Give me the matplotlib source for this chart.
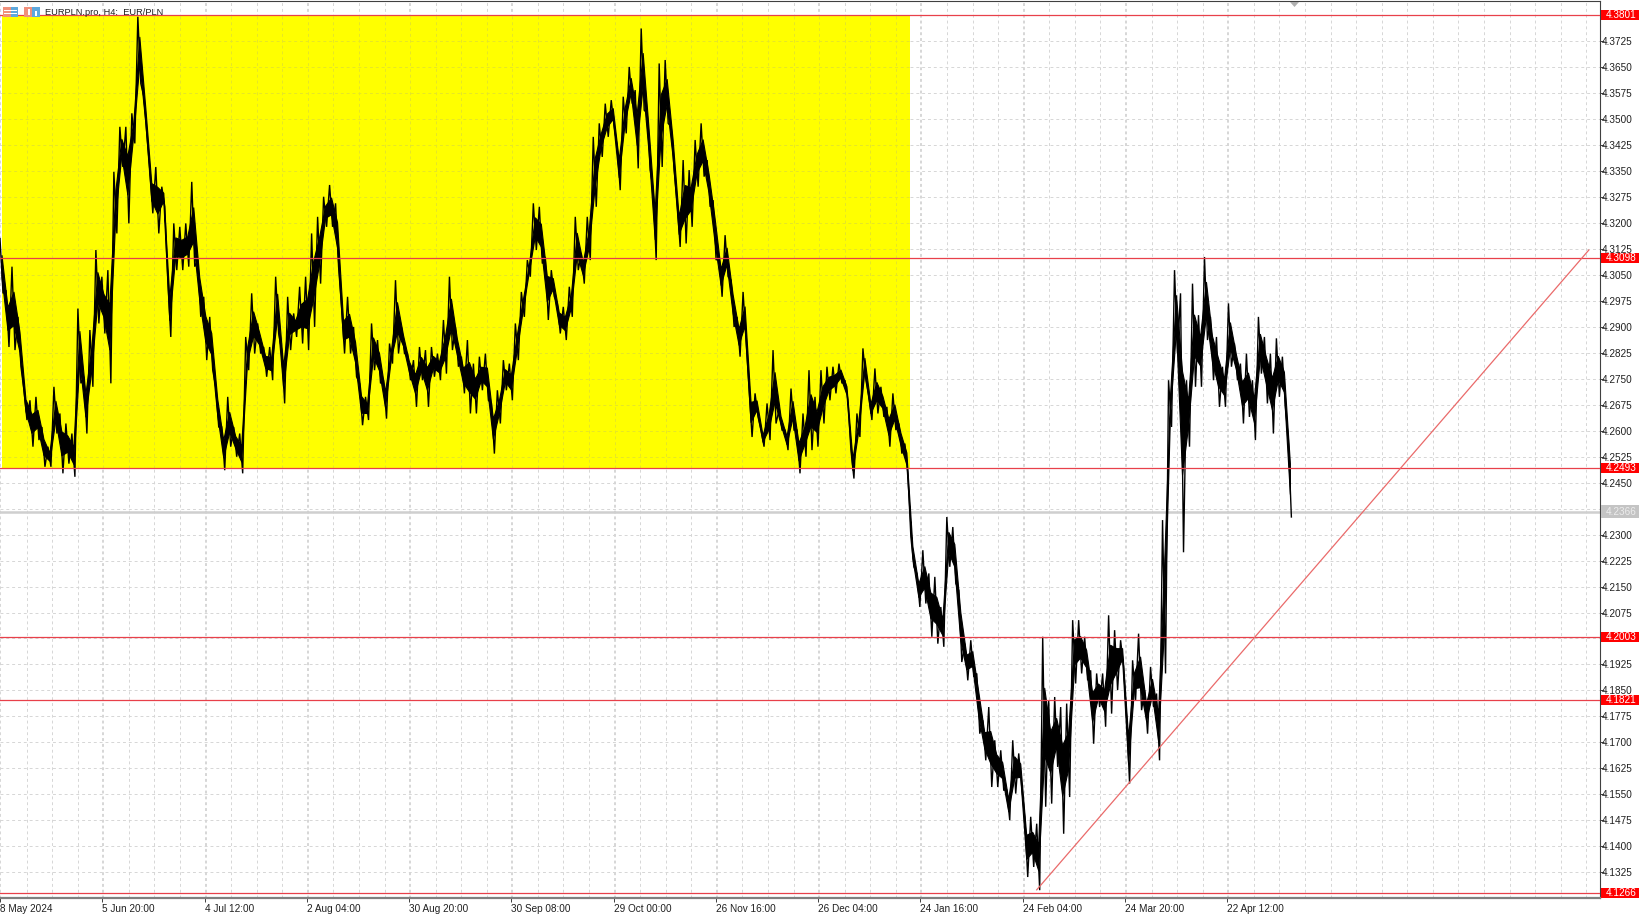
import numpy as np
import matplotlib
matplotlib.use('Agg')
import matplotlib.pyplot as plt
from matplotlib.patches import Rectangle

plt.rcParams['font.family'] = ['Liberation Sans', 'DejaVu Sans']

# one high/low pair every 7.5 H4 bars
highs = [
    4.3155, 4.3006, 4.3074, 4.2929, 4.2717, 4.2688, 4.2698, 4.2611, 4.2554, 4.2727, 4.2650,
    4.2621, 4.2592, 4.2953, 4.2756, 4.2891, 4.3122, 4.3045, 4.3064, 4.3348, 4.3478, 4.3478,
    4.3517, 4.3796, 4.3565, 4.3353, 4.3362, 4.3305, 4.3035, 4.3199, 4.3189, 4.3199, 4.3319,
    4.3093, 4.2987, 4.2929, 4.2727, 4.2611, 4.2698, 4.2611, 4.2592, 4.2871, 4.2997, 4.2910,
    4.2842, 4.2842, 4.3045, 4.2833, 4.2987, 4.2939, 4.3016, 4.3045, 4.3170, 4.3218, 4.3276,
    4.3310, 4.3257, 4.2958, 4.2987, 4.2900, 4.2737, 4.2698, 4.2910, 4.2862, 4.2746, 4.2852,
    4.3035, 4.2900, 4.2823, 4.2804, 4.2842, 4.2833, 4.2842, 4.2823, 4.2920, 4.3045, 4.2900,
    4.2814, 4.2862, 4.2794, 4.2814, 4.2823, 4.2679, 4.2717, 4.2804, 4.2794, 4.2910, 4.3001,
    4.3093, 4.3257, 4.3247, 4.3102, 4.3064, 4.2968, 4.2958, 4.3016, 4.3218, 4.3112, 4.3218,
    4.3449, 4.3488, 4.3545, 4.3555, 4.3420, 4.3565, 4.3651, 4.3584, 4.3762, 4.3517, 4.3295,
    4.3661, 4.3671, 4.3478, 4.3257, 4.3382, 4.3353, 4.3440, 4.3488, 4.3382, 4.3266, 4.3102,
    4.3165, 4.3035, 4.2929, 4.3001, 4.2727, 4.2708, 4.2602, 4.2679, 4.2833, 4.2660, 4.2602,
    4.2722, 4.2602, 4.2650, 4.2775, 4.2698, 4.2775, 4.2785, 4.2785, 4.2794, 4.2746, 4.2544,
    4.2650, 4.2838, 4.2698, 4.2780, 4.2727, 4.2669, 4.2708, 4.2621, 4.2563,
    4.2294, 4.2188, 4.2255, 4.2188, 4.2178, 4.2091, 4.2351, 4.2322, 4.2139, 4.1985, 4.1995,
    4.1899, 4.1764, 4.1802, 4.1706, 4.1677, 4.1562, 4.1706, 4.1668, 4.1485, 4.1485, 4.1465,
    4.2005, 4.1822, 4.1831, 4.1802, 4.1812, 4.2053, 4.2053, 4.2005, 4.1908, 4.1899, 4.1899,
    4.2067, 4.2024, 4.1995, 4.1774, 4.1937, 4.2014, 4.1851, 4.1918, 4.1841, 4.2342,
    4.2746, 4.3064, 4.2997, 4.2746, 4.3025, 4.2934, 4.3102, 4.2929, 4.2871, 4.2785, 4.2968,
    4.2852, 4.2794, 4.2823, 4.2746, 4.2929, 4.2871, 4.2823, 4.2867, 4.2814, 4.2573,
]
lows = [
    4.2997, 4.2842, 4.2833, 4.2785, 4.2631, 4.2554, 4.2573, 4.2496, 4.2496, 4.2592, 4.2477,
    4.2505, 4.2467, 4.2737, 4.2592, 4.2727, 4.2910, 4.2881, 4.2737, 4.3170, 4.3362, 4.3199,
    4.3430, 4.3603, 4.3459, 4.3228, 4.3170, 4.3247, 4.2871, 4.3064, 4.3064, 4.3074, 4.3074,
    4.2929, 4.2804, 4.2775, 4.2611, 4.2486, 4.2554, 4.2525, 4.2477, 4.2775, 4.2823, 4.2823,
    4.2756, 4.2746, 4.2881, 4.2679, 4.2833, 4.2871, 4.2852, 4.2833, 4.2900, 4.3025, 4.3189,
    4.3189, 4.3074, 4.2823, 4.2823, 4.2756, 4.2616, 4.2631, 4.2775, 4.2737, 4.2635, 4.2794,
    4.2823, 4.2823, 4.2746, 4.2669, 4.2746, 4.2669, 4.2756, 4.2746, 4.2765, 4.2833, 4.2785,
    4.2708, 4.2650, 4.2650, 4.2717, 4.2688, 4.2534, 4.2621, 4.2717, 4.2688, 4.2804, 4.2929,
    4.3045, 4.3122, 4.3083, 4.2920, 4.2987, 4.2881, 4.2862, 4.2929, 4.3064, 4.3025, 4.3093,
    4.3247, 4.3391, 4.3449, 4.3478, 4.3295, 4.3459, 4.3545, 4.3358, 4.3526, 4.3353, 4.3093,
    4.3362, 4.3488, 4.3353, 4.3131, 4.3141, 4.3189, 4.3305, 4.3334, 4.3247, 4.3093, 4.2987,
    4.3045, 4.2900, 4.2814, 4.2862, 4.2582, 4.2640, 4.2554, 4.2573, 4.2621, 4.2602, 4.2544,
    4.2602, 4.2477, 4.2525, 4.2544, 4.2554, 4.2621, 4.2688, 4.2708, 4.2737, 4.2688, 4.2462,
    4.2582, 4.2746, 4.2631, 4.2650, 4.2640, 4.2554, 4.2602, 4.2534, 4.2477,
    4.2207, 4.2091, 4.2101, 4.2005, 4.1985, 4.1976, 4.2207, 4.2159, 4.1932, 4.1879, 4.1889,
    4.1725, 4.1648, 4.1571, 4.1571, 4.1562, 4.1475, 4.1552, 4.1571, 4.1311, 4.1340, 4.1273,
    4.1514, 4.1523, 4.1629, 4.1436, 4.1542, 4.1870, 4.1899, 4.1879, 4.1696, 4.1802, 4.1745,
    4.1783, 4.1851, 4.1918, 4.1581, 4.1822, 4.1793, 4.1725, 4.1802, 4.1648, 4.1899,
    4.2611, 4.2823, 4.2249, 4.2554, 4.2727, 4.2727, 4.2862, 4.2746, 4.2669, 4.2669, 4.2785,
    4.2746, 4.2621, 4.2640, 4.2573, 4.2765, 4.2679, 4.2592, 4.2698, 4.2669, 4.2351,
]
bar_step = 7.5

level_lines = [4.3801, 4.3098, 4.2493, 4.2003, 4.1821, 4.1266]
last_price = 4.2366
trend_bars = [1295, 1986]
trend_prices = [4.1274, 4.3122]
zone_bars = [0, 1136]
zone_prices = [4.2493, 4.3801]

date_labels = ['8 May 2024', '5 Jun 20:00', '4 Jul 12:00', '2 Aug 04:00', '30 Aug 20:00',
               '30 Sep 08:00', '29 Oct 00:00', '26 Nov 16:00', '26 Dec 04:00',
               '24 Jan 16:00', '24 Feb 04:00', '24 Mar 20:00', '22 Apr 12:00']
price_ticks = np.arange(4.1325, 4.3801, 0.0075)
# these three sit under a price tag in the terminal
hidden_ticks = ['4.3800', '4.2375', '4.2000']

W, H = 1644, 917
fig = plt.figure(figsize=(W / 100, H / 100), dpi=100, facecolor='white')
ax = fig.add_axes([0, 1 - 898 / H, 1600 / W, 897 / H])
ax.set_xlim(0, 2000)
ax.set_ylim(4.12504, 4.38414)

grid_dash = (0, (3, 3))
major_x = [128 * i - 2.5 for i in range(len(date_labels))]
minor_x = [32 * i - 1.25 for i in range(1, 63)]
ax.set_xticks(major_x)
ax.set_xticklabels(date_labels, ha='left', fontsize=7.2, color='#202020')
ax.set_xticks(minor_x, minor=True)
tick_text = ['%.4f' % p for p in price_ticks]
ax.set_yticks(price_ticks)
ax.set_yticklabels(['' if t in hidden_ticks else t for t in tick_text], fontsize=7.2, color='#202020')
ax.yaxis.tick_right()
ax.tick_params(axis='x', which='major', length=3, width=0.7, color='#404040', pad=1.5)
ax.tick_params(axis='x', which='minor', length=0)
ax.tick_params(axis='y', length=3, width=0.7, color='#404040', pad=-2)
ax.grid(True, which='both', color='#d6d6d6', linestyle=grid_dash, linewidth=0.7, zorder=0)
ax.set_axisbelow(True)

ax.spines['left'].set_visible(False)
ax.spines['top'].set_color('#404040')
ax.spines['top'].set_linewidth(0.8)
ax.spines['right'].set_color('#404040')
ax.spines['right'].set_linewidth(0.8)
ax.spines['bottom'].set_color('#808080')
ax.spines['bottom'].set_linewidth(1.6)

# yellow zone, the grid only shows faintly through it
ax.add_patch(Rectangle((zone_bars[0], zone_prices[0]), zone_bars[1] - zone_bars[0],
                       zone_prices[1] - zone_prices[0], facecolor='#ffff00', edgecolor='none', zorder=1))
ax.vlines([x for x in minor_x if x < zone_bars[1]], zone_prices[0], zone_prices[1],
          color='#e6e628', linestyle=grid_dash, linewidth=0.7, zorder=1.5)
ax.hlines([p for p in price_ticks if zone_prices[0] < p < zone_prices[1]], zone_bars[0], zone_bars[1],
          color='#e6e628', linestyle=grid_dash, linewidth=0.7, zorder=1.5)

# price: a solid core between high and low, then a zigzag through each extreme for the wicks
highs = np.array(highs)
lows = np.array(lows)
bars = np.arange(len(highs)) * bar_step - 2.5
mids = (highs + lows) / 2
core = (highs - lows) * 0.2
ax.fill_between(bars + bar_step / 4, mids - core, mids + core, color='black', linewidth=0.8, zorder=3)
zig_x = np.column_stack([bars, bars + bar_step / 2]).ravel()
zig_y = np.column_stack([highs, lows]).ravel()
ax.plot(zig_x, zig_y, color='black', linewidth=1.0, solid_joinstyle='miter', zorder=3)

ax.axhline(last_price, color='#cfcfcf', linewidth=1.8, zorder=2)
for level in level_lines:
    ax.axhline(level, color='#e8404a', linewidth=0.9, zorder=4)
ax.plot(trend_bars, trend_prices, color='#ea6a6a', linewidth=0.9, zorder=4)

# price tags over the axis labels
tag_tf = ax.get_yaxis_transform()
for level, face, tall, ink in [(p, '#ff0000', 0.0029, 'white') for p in level_lines] + [(last_price, '#c4c4c4', 0.0037, '#ececec')]:
    ax.add_patch(Rectangle((1.0008, level - tall / 2), 38 / 1600, tall, transform=tag_tf,
                           facecolor=face, edgecolor='none', clip_on=False, zorder=6))
    ax.text(1 + 5.5 / 1600, level, '%.4f' % level, transform=tag_tf, color=ink, fontsize=7.2,
            va='center', ha='left', clip_on=False, zorder=7)

ax.text(45 / 1600, 1 - 11.5 / 897, 'EURPLN.pro, H4:  EUR/PLN', transform=ax.transAxes,
        fontsize=6.7, color='#202020', va='center', ha='left', zorder=8)

# toolbar icons and the chart shift marker
def px_box(x, y, w, h, color):
    fig.add_artist(Rectangle((x / W, 1 - (y + h) / H), w / W, h / H, transform=fig.transFigure,
                             facecolor=color, edgecolor='none', zorder=9))

px_box(3, 7, 8, 10, '#f0907c')
px_box(11, 7, 7, 10, '#5ea8dc')
px_box(4, 10, 13, 1, 'white')
px_box(4, 13, 13, 1, 'white')
px_box(24, 7, 8, 10, '#f0907c')
px_box(32, 7, 8, 10, '#5ea8dc')
px_box(28, 9, 2, 6, 'white')
px_box(35, 11, 2, 5, 'white')
fig.add_artist(plt.Polygon([[1290 / W, 1 - 2 / H], [1299 / W, 1 - 2 / H], [1294.5 / W, 1 - 7 / H]],
                           transform=fig.transFigure, facecolor='#b0b0b0', edgecolor='none', zorder=9))

fig.savefig('out.png', dpi=100, facecolor='white')
